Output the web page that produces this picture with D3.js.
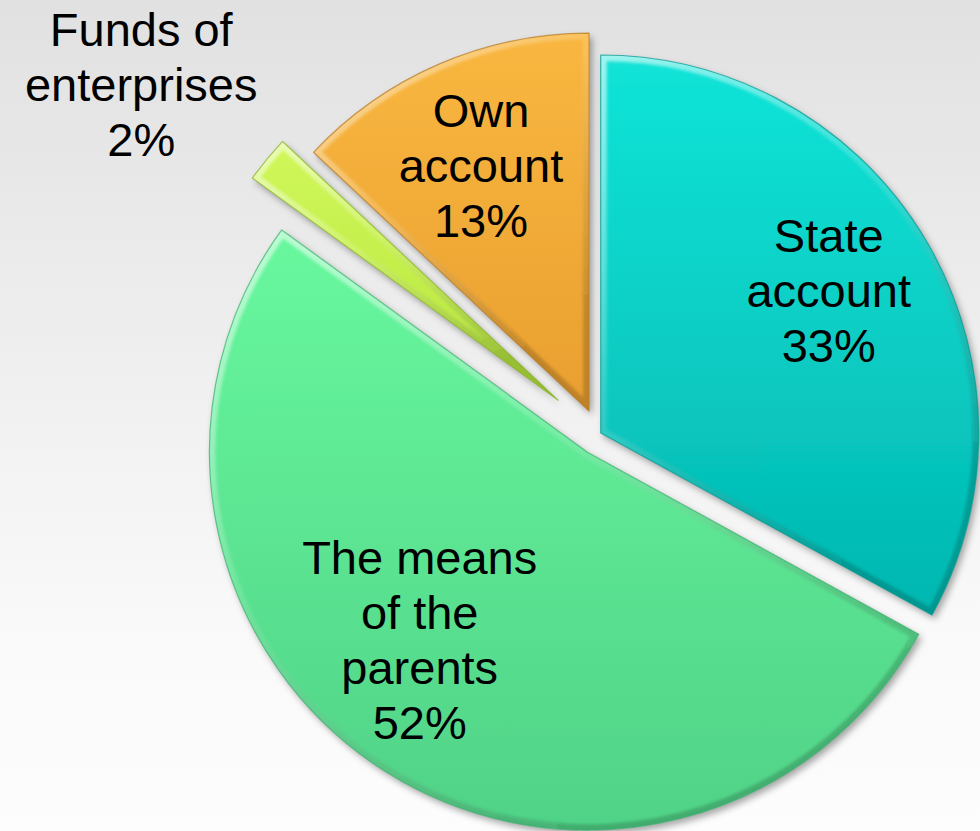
<!DOCTYPE html>
<html lang="en">
<head>
<meta charset="UTF-8">
<title>Sources of funding</title>
<script src="https://cdn.jsdelivr.net/npm/d3@7/dist/d3.min.js"></script>
<style>
    html, body{
        margin:0;
        padding:0;
    }
    body{
        width:980px;
        height:831px;
        overflow:hidden;
    }
    .label{
        font-family: "Liberation Sans", Arial, sans-serif;
        font-size: 47px;
        fill: #000;
        text-anchor: middle;
    }
</style>
</head>
<body>
<svg id="svg"></svg>
<script>
    // data
    var categories = ["State account", "The means of the parents", "Funds of enterprises", "Own account"];
    var values = [33, 52, 2, 13];
    var labelLines = [["State", "account"], ["The means", "of the", "parents"], ["Funds of", "enterprises"], ["Own", "account"]];

    // layout / style
    var WIDTH = 980;
    var HEIGHT = 831;
    var CX = 599, CY = 434, RADIUS = 378;
    var LINE_H = 55;
    var explode = [2, 21.5, 53, 25];
    var labelRadius = [0.71, 0.70, 1.38, 0.70];
    var labelNudge = [[-3, -5], [-26, -35], [-15, 17], [-3, -2]];
    var topColors = ["#12E4D8", "#68F89E", "#D0F75A", "#F9B740"];
    var bottomColors = ["#02B7B0", "#50D287", "#B6E63C", "#E99F2F"];
    var edgeColors = ["#06958F", "#3BAE6B", "#86B028", "#B5781F"];

    var svg = d3.select("#svg")
                .attr("width", WIDTH)
                .attr("height", HEIGHT);

    var defs = svg.append("defs");

    var bg = defs.append("linearGradient")
                 .attr("id", "bg")
                 .attr("x1", 0).attr("y1", 0).attr("x2", 0).attr("y2", 1);
    bg.append("stop").attr("offset", 0).attr("stop-color", "#E1E1E1");
    bg.append("stop").attr("offset", 0.75).attr("stop-color", "#F9F9F9");
    bg.append("stop").attr("offset", 1).attr("stop-color", "#FDFDFD");

    svg.append("rect")
       .attr("width", WIDTH)
       .attr("height", HEIGHT)
       .attr("fill", "url(#bg)");

    var shadow = defs.append("filter")
                     .attr("id", "shadow")
                     .attr("x", "-20%").attr("y", "-20%")
                     .attr("width", "140%").attr("height", "140%");
    shadow.append("feDropShadow")
          .attr("dx", 3).attr("dy", 4)
          .attr("stdDeviation", 3.5)
          .attr("flood-color", "#000")
          .attr("flood-opacity", 0.35);

    var soft = defs.append("filter").attr("id", "soft");
    soft.append("feGaussianBlur").attr("stdDeviation", 1.6);

    var rim = defs.append("linearGradient")
                  .attr("id", "rim")
                  .attr("x1", 0).attr("y1", 0).attr("x2", 0.6).attr("y2", 1);
    rim.append("stop").attr("offset", 0).attr("stop-color", "#fff").attr("stop-opacity", 0.6);
    rim.append("stop").attr("offset", 0.45).attr("stop-color", "#fff").attr("stop-opacity", 0.15);
    rim.append("stop").attr("offset", 1).attr("stop-color", "#000").attr("stop-opacity", 0.18);

    values.forEach(function(v, i){
        var g = defs.append("linearGradient")
                    .attr("id", "fill" + i)
                    .attr("x1", 0).attr("y1", 0).attr("x2", 0).attr("y2", 1);
        g.append("stop").attr("offset", 0).attr("stop-color", topColors[i]);
        g.append("stop").attr("offset", 1).attr("stop-color", bottomColors[i]);
    });

    var pie = d3.pie()
                .sort(null)
                .value(function(d){ return d; });

    var arc = d3.arc()
                .innerRadius(0)
                .outerRadius(RADIUS);

    var arcs = pie(values);

    var slices = svg.append("g")
                    .attr("transform", "translate(" + CX + "," + CY + ")")
                    .selectAll("g")
                    .data(arcs)
                    .enter()
                    .append("g")
                    .attr("transform", function(d, i){
                        var mid = (d.startAngle + d.endAngle) / 2;
                        return "translate(" + (Math.sin(mid) * explode[i]) + "," + (-Math.cos(mid) * explode[i]) + ")";
                    });

    slices.append("clipPath")
          .attr("id", function(d, i){ return "clip" + i; })
          .append("path")
          .attr("d", arc);

    slices.append("path")
          .attr("d", arc)
          .attr("fill", function(d, i){ return "url(#fill" + i + ")"; })
          .attr("filter", "url(#shadow)");

    // bevel rim
    slices.append("g")
          .attr("clip-path", function(d, i){ return "url(#clip" + i + ")"; })
          .append("path")
          .attr("d", arc)
          .attr("fill", "none")
          .attr("stroke", "url(#rim)")
          .attr("stroke-width", 12)
          .attr("filter", "url(#soft)");

    slices.append("path")
          .attr("d", arc)
          .attr("fill", "none")
          .attr("stroke", function(d, i){ return edgeColors[i]; })
          .attr("stroke-opacity", 0.7)
          .attr("stroke-width", 1.2)
          .attr("stroke-linejoin", "round");

    // labels
    slices.append("text")
          .attr("class", "label")
          .attr("transform", function(d, i){
              var mid = (d.startAngle + d.endAngle) / 2;
              var r = RADIUS * labelRadius[i];
              return "translate(" + (Math.sin(mid) * r + labelNudge[i][0]) + "," + (-Math.cos(mid) * r + labelNudge[i][1]) + ")";
          })
          .each(function(d, i){
              var lines = labelLines[i].concat([d.value + "%"]);
              var t = d3.select(this);
              lines.forEach(function(s, k){
                  t.append("tspan")
                   .attr("x", 0)
                   .attr("y", (k - (lines.length - 1) / 2) * LINE_H + 16)
                   .text(s);
              });
          });
</script>
</body>
</html>
